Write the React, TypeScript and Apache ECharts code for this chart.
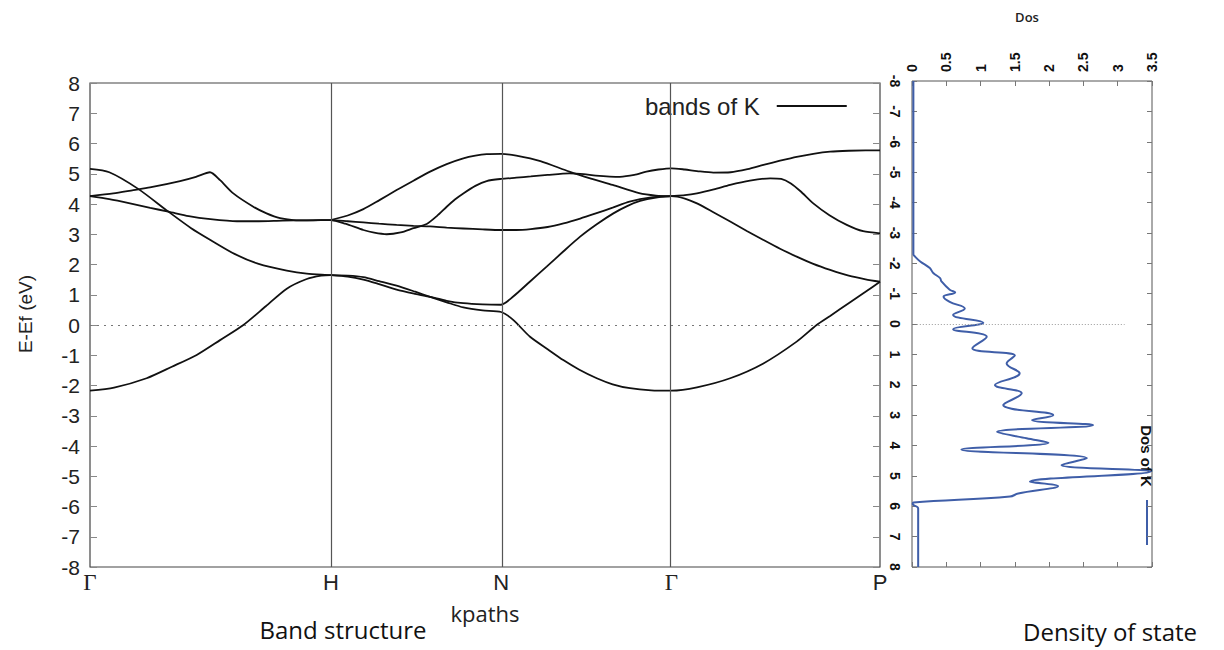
import React, { useEffect, useRef } from "react";
import * as echarts from "echarts";

// k-path high-symmetry points (cumulative distance, 2π/a units)
const kTickPos = [0, 1, 1.707, 2.414, 3.28];
const kTickLabels = ["Γ", "H", "N", "Γ", "P"];

// Bands: [k, E-Ef (eV)]
const band1: number[][] = [
  [0, -2.17], [0.1, -2.07], [0.235, -1.76], [0.34, -1.38], [0.443, -0.99], [0.54, -0.5], [0.637, 0.0], [0.73, 0.62], [0.817, 1.2], [0.9, 1.52], [0.96, 1.63], [1, 1.65],
  [1.07, 1.63], [1.135, 1.58], [1.2, 1.45], [1.273, 1.3], [1.35, 1.1], [1.412, 0.93], [1.481, 0.75], [1.55, 0.58], [1.63, 0.48], [1.707, 0.43],
  [1.757, 0.17], [1.827, -0.39], [1.9, -0.8], [1.965, -1.16], [2.03, -1.47], [2.104, -1.76], [2.17, -1.96], [2.242, -2.09], [2.33, -2.16], [2.414, -2.17],
  [2.52, -2.06], [2.658, -1.76], [2.796, -1.27], [2.934, -0.55], [3.017, 0.0], [3.073, 0.3], [3.15, 0.72], [3.22, 1.1], [3.28, 1.43],
];
const band2: number[][] = [
  [0, 5.16], [0.08, 5.05], [0.2, 4.5], [0.325, 3.75], [0.42, 3.2], [0.5, 2.81], [0.6, 2.35], [0.7, 2.02], [0.817, 1.8], [0.9, 1.7], [1, 1.65],
  [1.07, 1.6], [1.135, 1.5], [1.2, 1.35], [1.273, 1.17], [1.35, 1.03], [1.412, 0.93], [1.481, 0.8], [1.55, 0.72], [1.63, 0.68], [1.707, 0.67],
  [1.757, 0.94], [1.826, 1.43], [1.896, 1.93], [1.965, 2.43], [2.035, 2.92], [2.104, 3.33], [2.173, 3.69], [2.23, 3.93], [2.284, 4.1], [2.35, 4.21], [2.414, 4.26],
  [2.47, 4.18], [2.52, 4.02], [2.59, 3.72], [2.658, 3.42], [2.727, 3.11], [2.796, 2.81], [2.865, 2.52], [2.934, 2.26], [3.003, 2.02], [3.073, 1.82], [3.15, 1.63], [3.22, 1.51], [3.28, 1.43],
];
const band3: number[][] = [
  [0, 4.26], [0.08, 4.16], [0.166, 4.02], [0.25, 3.87], [0.325, 3.75], [0.41, 3.6], [0.5, 3.5], [0.61, 3.43], [0.7, 3.43], [0.8, 3.45], [0.9, 3.46], [1, 3.47],
  [1.07, 3.43], [1.135, 3.39], [1.2, 3.35], [1.273, 3.31], [1.343, 3.28], [1.412, 3.26], [1.481, 3.22], [1.55, 3.19], [1.63, 3.16], [1.707, 3.14],
  [1.77, 3.14], [1.83, 3.17], [1.9, 3.24], [1.966, 3.36], [2.035, 3.52], [2.1, 3.69], [2.17, 3.88], [2.24, 4.08], [2.33, 4.22], [2.414, 4.26],
  [2.47, 4.29], [2.52, 4.35], [2.59, 4.48], [2.658, 4.63], [2.74, 4.77], [2.824, 4.85], [2.87, 4.83], [2.91, 4.68], [2.95, 4.42], [3.003, 4.02], [3.07, 3.63], [3.142, 3.31], [3.21, 3.1], [3.28, 3.03],
];
const band4: number[][] = [
  [0, 4.26], [0.097, 4.35], [0.18, 4.46], [0.249, 4.55], [0.374, 4.76], [0.44, 4.9], [0.498, 5.05], [0.54, 4.79], [0.595, 4.35], [0.678, 3.91], [0.733, 3.69], [0.789, 3.53], [0.844, 3.47], [0.92, 3.46], [1, 3.47],
  [1.06, 3.35], [1.135, 3.14], [1.18, 3.05], [1.232, 3.0], [1.29, 3.06], [1.343, 3.2], [1.398, 3.34], [1.44, 3.6], [1.481, 3.91], [1.515, 4.15], [1.55, 4.35], [1.6, 4.6], [1.647, 4.76], [1.707, 4.83],
  [1.77, 4.87], [1.83, 4.91], [1.9, 4.96], [1.99, 5.01], [2.05, 4.99], [2.1, 4.94], [2.2, 4.9], [2.26, 4.96], [2.31, 5.07], [2.36, 5.14], [2.414, 5.18],
  [2.47, 5.14], [2.52, 5.09], [2.588, 5.04], [2.66, 5.05], [2.73, 5.15], [2.796, 5.29], [2.865, 5.43], [2.934, 5.56], [3.003, 5.66], [3.073, 5.73], [3.15, 5.76], [3.22, 5.77], [3.28, 5.77],
];
const band5: number[][] = [
  [1, 3.47], [1.07, 3.62], [1.135, 3.83], [1.2, 4.12], [1.273, 4.46], [1.343, 4.77], [1.412, 5.07], [1.481, 5.32], [1.55, 5.51], [1.6, 5.6], [1.647, 5.65], [1.707, 5.66],
  [1.77, 5.6], [1.87, 5.42], [1.99, 5.07], [2.08, 4.84], [2.17, 4.63], [2.28, 4.36], [2.35, 4.28], [2.414, 4.26],
];
const bands = [band1, band2, band3, band4, band5];

// Density of states: energy (eV) and DOS values
const dosEnergy = [-8, -2.3, -2.22, -2.06, -1.84, -1.68, -1.51, -1.4, -1.13, -1.04, -0.9, -0.73, -0.51, -0.3, -0.04, 0.17, 0.42, 0.8, 1.04, 1.3, 1.62, 2.01, 2.28, 2.67, 3.0, 3.16, 3.33, 3.55, 3.76, 3.91, 4.13, 4.42, 4.64, 4.86, 5.19, 5.33, 5.58, 5.68, 5.88, 5.93, 6.07, 8];
const dosValue = [0.02, 0.02, 0.044, 0.12, 0.26, 0.31, 0.41, 0.43, 0.55, 0.63, 0.46, 0.55, 0.77, 0.6, 1.04, 0.6, 1.09, 0.88, 1.5, 1.38, 1.57, 1.21, 1.6, 1.33, 2.06, 1.75, 2.64, 1.24, 1.67, 1.99, 0.72, 2.55, 2.18, 3.48, 1.72, 2.13, 1.55, 1.43, 0.02, 0.01, 0.09, 0.09];

const BAND_COLOR = "#111111";
const DOS_COLOR = "#3f5ea8";

export default function App() {
  const ref = useRef<HTMLDivElement>(null);
  useEffect(() => {
    if (!ref.current) return;
    const chart = echarts.init(ref.current, undefined, { renderer: "svg" });
    const bandSeries = bands.map((b, i) => ({
      name: "bands of K",
      type: "line",
      xAxisIndex: 0,
      yAxisIndex: 0,
      data: b,
      symbol: "none",
      smooth: 0.25,
      lineStyle: { color: BAND_COLOR, width: 1.8 },
      itemStyle: { color: BAND_COLOR },
      z: 3,
      markLine:
        i === 0
          ? {
              silent: true,
              symbol: "none",
              label: { show: false },
              data: [
                { yAxis: 0, lineStyle: { type: [2, 5], color: "#777", width: 1 } },
                ...kTickPos.slice(1, 4).map((k) => ({ xAxis: k, lineStyle: { type: "solid", color: "#555", width: 1.2 } })),
              ],
            }
          : undefined,
    }));
    const tickFont = "Liberation Sans, Arial, sans-serif";
    const noLine = { show: false, onZero: false };
    chart.setOption({
      animation: false,
      backgroundColor: "#ffffff",
      grid: [
        { left: 90, top: 83, width: 790, height: 484, show: true, borderColor: "#444", borderWidth: 1.2, backgroundColor: "transparent", outerBoundsMode: "none" },
        { left: 912, top: 81, width: 240, height: 486, show: true, borderColor: "#555", borderWidth: 1, backgroundColor: "transparent", outerBoundsMode: "none" },
      ],
      legend: {
        data: ["bands of K"],
        left: 640,
        top: 89,
        align: "right",
        icon: "rect",
        itemWidth: 70,
        itemHeight: 1.8,
        selectedMode: false,
        textStyle: { fontSize: 24, fontFamily: tickFont, color: "#222", padding: [0, 12, 0, 0] },
      },
      xAxis: [
        {
          gridIndex: 0,
          type: "value",
          min: 0,
          max: kTickPos[kTickPos.length - 1],
          position: "bottom",
          axisLine: noLine,
          axisTick: { show: false },
          splitLine: { show: false },
          axisLabel: {
            customValues: kTickPos,
            margin: 4,
            color: "#222",
            formatter: (v: number) => {
              let best = 0;
              kTickPos.forEach((k, i) => {
                if (Math.abs(k - v) < Math.abs(kTickPos[best] - v)) best = i;
              });
              const t = kTickLabels[best];
              return t === "Γ" ? "{g|Γ}" : "{s|" + t + "}";
            },
            rich: {
              g: { fontFamily: "Liberation Serif, serif", fontSize: 23, color: "#222" },
              s: { fontFamily: tickFont, fontSize: 22, color: "#222" },
            },
          },
          name: "kpaths",
          nameLocation: "middle",
          nameGap: 35,
          nameTextStyle: { fontFamily: "Open Sans, sans-serif", fontSize: 22, color: "#222" },
        },
        {
          gridIndex: 1,
          type: "value",
          min: 0,
          max: 3.5,
          interval: 0.5,
          position: "top",
          axisLine: noLine,
          axisTick: { inside: true, length: 5, lineStyle: { color: "#777" } },
          splitLine: { show: false },
          axisLabel: { rotate: -90, fontSize: 14, fontWeight: "bold", fontFamily: tickFont, color: "#111", margin: 9 },
        },
        {
          gridIndex: 1,
          type: "value",
          min: 0,
          max: 3.5,
          interval: 0.5,
          position: "bottom",
          axisLine: noLine,
          axisTick: { inside: true, length: 5, lineStyle: { color: "#777" } },
          splitLine: { show: false },
          axisLabel: { show: false },
        },
      ],
      yAxis: [
        {
          gridIndex: 0,
          type: "value",
          min: -8,
          max: 8,
          interval: 1,
          position: "left",
          axisLine: noLine,
          axisTick: { inside: true, length: 7, lineStyle: { color: "#888" } },
          splitLine: { show: false },
          axisLabel: { fontSize: 21, fontFamily: tickFont, color: "#222", margin: 10 },
        },
        {
          gridIndex: 0,
          type: "value",
          min: -8,
          max: 8,
          interval: 1,
          position: "right",
          axisLine: noLine,
          axisTick: { inside: true, length: 7, lineStyle: { color: "#888" } },
          splitLine: { show: false },
          axisLabel: { show: false },
        },
        {
          gridIndex: 1,
          type: "value",
          min: -8,
          max: 8,
          interval: 1,
          inverse: true,
          position: "left",
          axisLine: noLine,
          axisTick: { inside: true, length: 5, lineStyle: { color: "#777" } },
          splitLine: { show: false },
          axisLabel: { rotate: -90, fontSize: 14, fontWeight: "bold", fontFamily: tickFont, color: "#111", margin: 10 },
        },
        {
          gridIndex: 1,
          type: "value",
          min: -8,
          max: 8,
          interval: 1,
          inverse: true,
          position: "right",
          axisLine: noLine,
          axisTick: { inside: true, length: 5, lineStyle: { color: "#777" } },
          splitLine: { show: false },
          axisLabel: { show: false },
        },
      ],
      series: [
        ...bandSeries,
        {
          name: "Dos of K",
          type: "line",
          xAxisIndex: 1,
          yAxisIndex: 2,
          data: dosValue.map((v, i) => [v, dosEnergy[i]]),
          symbol: "none",
          smooth: 0.4,
          lineStyle: { color: DOS_COLOR, width: 2 },
          itemStyle: { color: DOS_COLOR },
          z: 3,
          markLine: {
            silent: true,
            symbol: "none",
            label: { show: false },
            lineStyle: { type: [1, 2], color: "#999", width: 1 },
            data: [[{ coord: [0.07, 0] }, { coord: [3.1, 0] }]],
          },
        },
      ],
      graphic: [
        {
          type: "text",
          x: 25,
          y: 314,
          rotation: Math.PI / 2,
          style: { text: "E-Ef (eV)", font: "19px Liberation Sans, Arial, sans-serif", fill: "#222", align: "center", verticalAlign: "middle" },
        },
        {
          type: "text",
          x: 343,
          y: 629,
          style: { text: "Band structure", font: "24px Open Sans, sans-serif", fill: "#111", align: "center", verticalAlign: "middle" },
        },
        {
          type: "text",
          x: 1110,
          y: 631,
          style: { text: "Density of state", font: "24px Open Sans, sans-serif", fill: "#111", align: "center", verticalAlign: "middle" },
        },
        {
          type: "text",
          x: 1027,
          y: 17,
          style: { text: "Dos", font: "600 13px Open Sans, sans-serif", fill: "#222", align: "center", verticalAlign: "middle" },
        },
        {
          type: "text",
          x: 1146,
          y: 456,
          rotation: -Math.PI / 2,
          style: { text: "Dos of K", font: "bold 15px Liberation Sans, Arial, sans-serif", fill: "#111", align: "center", verticalAlign: "middle" },
        },
        {
          type: "line",
          shape: { x1: 1147, y1: 500, x2: 1147, y2: 545 },
          style: { stroke: DOS_COLOR, lineWidth: 2 },
        },
      ],
    });
    return () => chart.dispose();
  }, []);
  return <div ref={ref} style={{ position: "fixed", left: 0, top: 0, width: 1224, height: 650 }} />;
}
